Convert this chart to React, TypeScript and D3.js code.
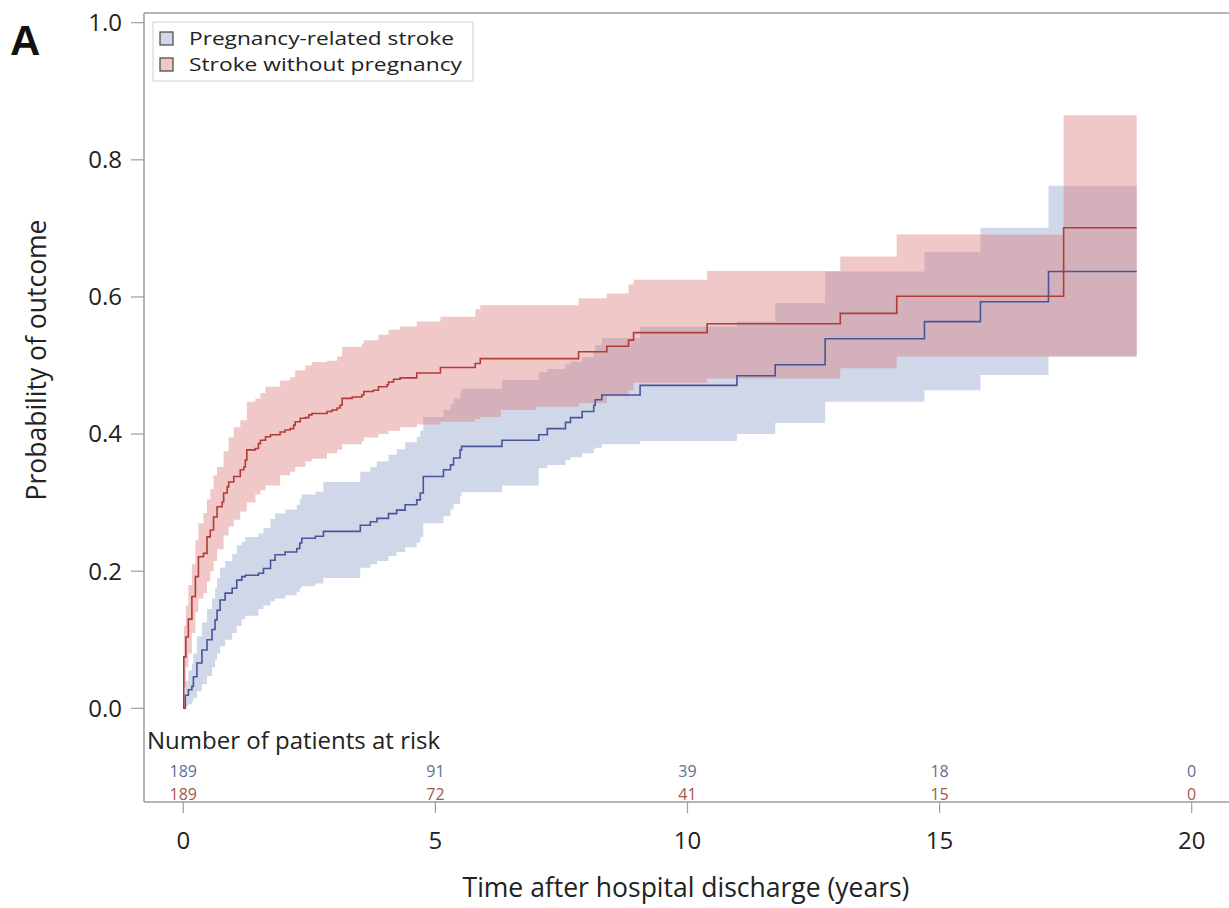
import React from "react";
import * as d3 from "d3";

// ---- data ----
const xTicks = [0, 5, 10, 15, 20];
const yTicks = [0, 0.2, 0.4, 0.6, 0.8, 1.0];

const seriesNames = ["Pregnancy-related stroke", "Stroke without pregnancy"];

const atRiskTimes = [0, 5, 10, 15, 20];
const atRiskBlue = [189, 91, 39, 18, 0];
const atRiskRed = [189, 72, 41, 15, 0];

// Stroke without pregnancy (red)
const redTimes = [0, 0.01, 0.05, 0.10, 0.17, 0.24, 0.30, 0.40, 0.47, 0.535, 0.60, 0.67, 0.77, 0.80, 0.87, 0.90, 1.00, 1.13, 1.20, 1.23, 1.26, 1.43, 1.49, 1.53, 1.63, 1.73, 1.92, 2.02, 2.12, 2.19, 2.22, 2.32, 2.42, 2.49, 2.55, 2.85, 2.95, 3.05, 3.11, 3.15, 3.35, 3.54, 3.58, 3.77, 3.87, 4.04, 4.07, 4.17, 4.30, 4.63, 5.10, 5.79, 5.89, 7.84, 8.40, 8.83, 8.93, 10.39, 13.03, 14.15, 17.46, 18.91];
const redEst = [0, 0.075, 0.104, 0.13, 0.163, 0.192, 0.221, 0.226, 0.25, 0.26, 0.279, 0.294, 0.301, 0.314, 0.323, 0.33, 0.338, 0.348, 0.352, 0.362, 0.377, 0.379, 0.386, 0.391, 0.396, 0.399, 0.403, 0.406, 0.408, 0.413, 0.418, 0.423, 0.424, 0.428, 0.43, 0.433, 0.435, 0.438, 0.442, 0.452, 0.454, 0.457, 0.462, 0.464, 0.469, 0.472, 0.476, 0.48, 0.482, 0.489, 0.497, 0.503, 0.51, 0.52, 0.528, 0.537, 0.548, 0.561, 0.576, 0.601, 0.701, 0.701];

const redBandTimes = [0, 0.01, 0.05, 0.10, 0.17, 0.24, 0.30, 0.40, 0.47, 0.535, 0.60, 0.67, 0.80, 0.90, 1.00, 1.13, 1.26, 1.43, 1.53, 1.63, 1.92, 2.12, 2.22, 2.42, 2.55, 2.85, 3.05, 3.15, 3.54, 3.58, 3.87, 4.07, 4.30, 4.63, 5.10, 5.79, 5.89, 6.30, 7.00, 7.84, 8.40, 8.83, 8.93, 10.39, 13.03, 14.15, 17.46, 18.91];
const redLower = [0, 0.03, 0.06, 0.08, 0.11, 0.14, 0.16, 0.168, 0.185, 0.20, 0.215, 0.232, 0.252, 0.265, 0.275, 0.287, 0.30, 0.312, 0.318, 0.325, 0.34, 0.345, 0.352, 0.36, 0.364, 0.372, 0.377, 0.385, 0.39, 0.395, 0.40, 0.405, 0.41, 0.414, 0.418, 0.422, 0.425, 0.435, 0.44, 0.445, 0.455, 0.464, 0.475, 0.481, 0.496, 0.513, 0.513, 0.513];
const redUpper = [0, 0.12, 0.15, 0.18, 0.21, 0.245, 0.27, 0.285, 0.305, 0.32, 0.34, 0.352, 0.375, 0.395, 0.41, 0.42, 0.447, 0.452, 0.46, 0.469, 0.478, 0.483, 0.493, 0.50, 0.505, 0.507, 0.513, 0.527, 0.532, 0.537, 0.545, 0.552, 0.557, 0.564, 0.571, 0.582, 0.588, 0.588, 0.588, 0.598, 0.605, 0.618, 0.625, 0.638, 0.659, 0.691, 0.865, 0.865];

// Pregnancy-related stroke (blue)
const blueTimes = [0, 0.04, 0.10, 0.17, 0.20, 0.27, 0.37, 0.47, 0.57, 0.63, 0.67, 0.73, 0.83, 0.97, 1.06, 1.16, 1.23, 1.49, 1.59, 1.73, 1.82, 2.02, 2.25, 2.31, 2.35, 2.62, 2.78, 3.51, 3.71, 3.84, 4.07, 4.23, 4.40, 4.63, 4.70, 4.76, 5.16, 5.30, 5.36, 5.49, 5.52, 6.32, 7.05, 7.22, 7.58, 7.68, 7.91, 8.14, 8.17, 8.30, 9.06, 10.98, 11.74, 12.73, 14.70, 15.81, 17.16, 18.91];
const blueEst = [0, 0.019, 0.027, 0.032, 0.046, 0.066, 0.085, 0.10, 0.115, 0.129, 0.143, 0.158, 0.168, 0.175, 0.187, 0.192, 0.194, 0.197, 0.204, 0.216, 0.224, 0.228, 0.233, 0.241, 0.248, 0.251, 0.258, 0.267, 0.272, 0.277, 0.284, 0.289, 0.297, 0.304, 0.314, 0.338, 0.348, 0.355, 0.365, 0.377, 0.382, 0.391, 0.399, 0.408, 0.417, 0.424, 0.433, 0.442, 0.45, 0.457, 0.471, 0.485, 0.501, 0.539, 0.564, 0.593, 0.637, 0.637];
const blueLower = [0, 0.003, 0.006, 0.01, 0.015, 0.025, 0.035, 0.047, 0.06, 0.07, 0.08, 0.09, 0.10, 0.11, 0.12, 0.13, 0.135, 0.145, 0.15, 0.156, 0.16, 0.165, 0.17, 0.175, 0.178, 0.182, 0.19, 0.205, 0.21, 0.215, 0.222, 0.228, 0.235, 0.242, 0.25, 0.27, 0.28, 0.29, 0.298, 0.31, 0.315, 0.325, 0.35, 0.355, 0.362, 0.366, 0.372, 0.378, 0.38, 0.385, 0.39, 0.40, 0.416, 0.447, 0.464, 0.486, 0.513, 0.513];
const blueUpper = [0, 0.04, 0.055, 0.065, 0.08, 0.105, 0.125, 0.145, 0.16, 0.175, 0.19, 0.205, 0.215, 0.225, 0.238, 0.243, 0.25, 0.255, 0.263, 0.276, 0.284, 0.29, 0.297, 0.305, 0.312, 0.316, 0.33, 0.345, 0.352, 0.36, 0.37, 0.378, 0.388, 0.396, 0.405, 0.425, 0.435, 0.443, 0.452, 0.46, 0.466, 0.479, 0.49, 0.495, 0.502, 0.506, 0.512, 0.522, 0.53, 0.54, 0.557, 0.564, 0.591, 0.637, 0.666, 0.701, 0.762, 0.762];

// ---- styling ----
const W = 1229;
const H = 908;
const FONT = "'Open Sans', 'Noto Sans', sans-serif";
const frameColor = "#9d9d9d";
const redLine = "#b23b35";
const blueLine = "#46569a";
const redFill = "#d97575";
const blueFill = "#8a9cc8";
const bandOpacity = 0.4;
const redText = "#a4574c";
const blueText = "#5d6f98";

const frame = { left: 144, top: 13, bottom: 802, right: 1240 };

export default function App() {
  const x = d3.scaleLinear().domain([0, 20]).range([183.3, 1191.7]);
  const y = d3.scaleLinear().domain([0, 1]).range([708.3, 22.7]);

  const line = d3
    .line<[number, number]>()
    .x((d) => x(d[0]))
    .y((d) => y(d[1]))
    .curve(d3.curveStepAfter);

  const area = d3
    .area<[number, number, number]>()
    .x((d) => x(d[0]))
    .y0((d) => y(d[1]))
    .y1((d) => y(d[2]))
    .curve(d3.curveStepAfter);

  const redPts = redTimes.map((t, i) => [t, redEst[i]] as [number, number]);
  const bluePts = blueTimes.map((t, i) => [t, blueEst[i]] as [number, number]);
  const redBand = redBandTimes.map((t, i) => [t, redLower[i], redUpper[i]] as [number, number, number]);
  const blueBand = blueTimes.map((t, i) => [t, blueLower[i], blueUpper[i]] as [number, number, number]);

  return (
    <svg
      width={W}
      height={H}
      style={{ position: "absolute", left: 0, top: 0, background: "#fff" }}
      fontFamily={FONT}
    >
      <rect x={0} y={0} width={W} height={H} fill="#fff" />

      {/* panel letter */}
      <text x={10} y={55} fontFamily="'Liberation Sans', Arial, sans-serif" fontWeight="bold" fontSize={42} fill="#111">
        A
      </text>

      {/* bands */}
      <path d={area(blueBand) || ""} fill={blueFill} fillOpacity={bandOpacity} stroke="none" />
      <path d={area(redBand) || ""} fill={redFill} fillOpacity={bandOpacity} stroke="none" />

      {/* curves */}
      <path d={line(bluePts) || ""} fill="none" stroke={blueLine} strokeWidth={1.6} />
      <path d={line(redPts) || ""} fill="none" stroke={redLine} strokeWidth={1.6} />

      {/* frame */}
      <line x1={frame.left} x2={frame.right} y1={frame.top} y2={frame.top} stroke={frameColor} strokeWidth={1.5} />
      <line x1={frame.left} x2={frame.right} y1={frame.bottom} y2={frame.bottom} stroke={frameColor} strokeWidth={1.5} />
      <line x1={frame.left} x2={frame.left} y1={frame.top} y2={frame.bottom} stroke={frameColor} strokeWidth={1.5} />

      {/* y axis */}
      {yTicks.map((v) => (
        <g key={"y" + v}>
          <line x1={131} x2={frame.left} y1={y(v)} y2={y(v)} stroke={frameColor} strokeWidth={1.2} />
          <text x={122} y={y(v)} dy="0.35em" textAnchor="end" fontSize={24} fill="#222">
            {d3.format(".1f")(v)}
          </text>
        </g>
      ))}
      <text
        transform={`translate(37, 360) rotate(-90)`}
        textAnchor="middle"
        dy="0.35em"
        fontSize={26.5}
        fill="#222"
      >
        Probability of outcome
      </text>

      {/* x axis */}
      {xTicks.map((v) => (
        <g key={"x" + v}>
          <line x1={x(v)} x2={x(v)} y1={frame.bottom} y2={frame.bottom + 11} stroke={frameColor} strokeWidth={1.2} />
          <text x={x(v)} y={849} textAnchor="middle" fontSize={24} fill="#222">
            {v}
          </text>
        </g>
      ))}
      <text x={686} y={897} textAnchor="middle" fontSize={26.5} fill="#222">
        Time after hospital discharge (years)
      </text>

      {/* at-risk table */}
      <text x={147} y={749} fontSize={24} fill="#222">
        Number of patients at risk
      </text>
      {atRiskTimes.map((t, i) => (
        <g key={"r" + t}>
          <text x={x(t)} y={777} textAnchor="middle" fontSize={16} fill={blueText}>
            {atRiskBlue[i]}
          </text>
          <text x={x(t)} y={800} textAnchor="middle" fontSize={16} fill={redText}>
            {atRiskRed[i]}
          </text>
        </g>
      ))}

      {/* legend */}
      <rect x={153} y={22} width={320} height={59} fill="#fff" stroke="#cfcfcf" strokeWidth={1} />
      <rect x={160} y={32} width={13} height={13} fill={blueFill} fillOpacity={bandOpacity} stroke="#444" strokeWidth={1.2} />
      <text x={189} y={45} fontSize={19} textLength={265} lengthAdjust="spacingAndGlyphs" fill="#222">
        {seriesNames[0]}
      </text>
      <rect x={160} y={58} width={13} height={13} fill={redFill} fillOpacity={bandOpacity} stroke="#444" strokeWidth={1.2} />
      <text x={189} y={71} fontSize={19} textLength={273} lengthAdjust="spacingAndGlyphs" fill="#222">
        {seriesNames[1]}
      </text>
    </svg>
  );
}
